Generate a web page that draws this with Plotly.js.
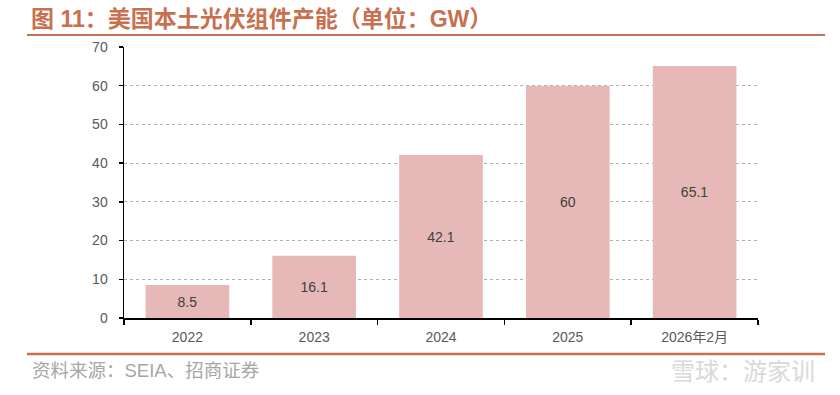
<!DOCTYPE html>
<html><head><meta charset="utf-8">
<script src="https://cdn.plot.ly/plotly-3.0.1.min.js"></script>
<style>body{margin:0;background:#fff}#c{width:840px;height:395px}</style>
</head><body><div id="c"></div>
<script>
var categories = ["2022", "2023", "2024", "2025", "2026年2月"];
var capacity = [8.5, 16.1, 42.1, 60, 65.1];
var yTicks = [0, 10, 20, 30, 40, 50, 60, 70];

var L = 124, R = 758, T = 47, B = 318;
function px(x){return (x - L)/(R - L);}
function py(y){return (B - y)/(B - T);}
var accent = "#c8704f";
var font = "Arial, 'Liberation Sans', 'Noto Sans CJK SC', sans-serif";

var trace = {
  type: "bar", x: categories, y: capacity,
  marker: {color: "#e6b8b7"}, width: 0.66,
  text: capacity.map(String), textposition: "inside", insidetextanchor: "middle",
  textfont: {color: "#404040", size: 14, family: font},
  hoverinfo: "none"
};
var layout = {
  width: 840, height: 395,
  margin: {l: L, r: 840 - R, t: T, b: 395 - B},
  paper_bgcolor: "#fff", plot_bgcolor: "#fff",
  showlegend: false,
  xaxis: {type: "category", tickson: "boundaries", ticks: "outside", ticklen: 5, tickcolor: "#000", tickwidth: 1.5,
    showline: true, linecolor: "#000", linewidth: 1.5, showgrid: false, ticklabelstandoff: 6,
    tickfont: {size: 14, color: "#595959", family: font}, fixedrange: true},
  yaxis: {range: [0, 70], tickvals: yTicks, ticks: "outside", ticklen: 4, tickcolor: "#000", tickwidth: 1.5,
    showline: true, linecolor: "#000", linewidth: 1.5, showgrid: true, gridcolor: "#b0b0b0", griddash: "dot", gridwidth: 1,
    zeroline: false, ticklabelstandoff: 8, tickfont: {size: 14, color: "#595959", family: font}, fixedrange: true},
  shapes: [
    {type: "line", xref: "paper", yref: "paper", x0: px(27), x1: px(825), y0: py(35), y1: py(35), line: {color: accent, width: 2}},
    {type: "line", xref: "paper", yref: "paper", x0: px(27), x1: px(825), y0: py(354), y1: py(354), line: {color: accent, width: 2.5}}
  ],
  annotations: [
    {xref: "paper", yref: "paper", x: px(29), y: py(19), xanchor: "left", yanchor: "middle", showarrow: false,
     text: "<b>图 11：美国本土光伏组件产能（单位：GW）</b>", font: {size: 23, color: accent, family: font}},
    {xref: "paper", yref: "paper", x: px(30), y: py(370), xanchor: "left", yanchor: "middle", showarrow: false,
     text: "资料来源：SEIA、招商证券", font: {size: 18.5, color: "#a6a6a6", family: font}},
    {xref: "paper", yref: "paper", x: px(817), y: py(371), xanchor: "right", yanchor: "middle", showarrow: false,
     text: "雪球：游家训", font: {size: 24, color: "#d9d9d9", family: font}}
  ]
};
Plotly.newPlot("c", [trace], layout, {displayModeBar: false, staticPlot: true});
</script></body></html>
